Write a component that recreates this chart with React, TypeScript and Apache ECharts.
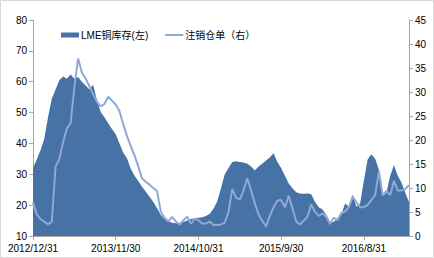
import React, { useEffect, useRef } from "react";
import * as echarts from "echarts";

// Half-month steps from 2012/12/31 to 2017/2/28
const stockLME: number[] = [
  32, 34.8, 37.8, 41.5, 48.5, 54.5, 57.5, 60.5, 61.7, 61, 62.3, 61, 61.5, 60, 58.8, 57.5, 59, 54, 50.2, 48.5,
  46.5, 44.7, 43, 40, 37, 35.2, 31.8, 29.5, 27.8, 26, 24.3, 22.7, 21, 19, 16.8, 15.5, 14.8, 14.3, 14.1, 14,
  14.5, 15, 15.5, 15.7, 15.9, 16.1, 16.5, 17.2, 18.8, 21.3, 25.5, 30, 32, 34, 34.2, 34, 33.8, 33.4, 32.5, 31.2,
  32.5, 33.5, 34.5, 35.5, 36.8, 34, 32, 29.5, 27, 25.5, 24.2, 23.8, 23.7, 23.8, 23.5, 21, 19.3, 18.6, 16.8, 14.6,
  14.5, 15.8, 17, 20.5, 19.5, 23.4, 19.5, 20.5, 28, 34.8, 36.5, 35, 31.5, 23, 24, 29.5, 33, 29.5, 27.3, 24, 21,
];
const cancelledWarrants: number[] = [
  7, 4.5, 3.5, 3, 2.4, 3, 14.5, 16, 19.5, 22.4, 23.5, 31, 37, 34, 32.8, 31.2, 29.5, 28, 27, 27.5,
  29, 28.2, 27.4, 26, 23.3, 20.8, 18.7, 16.8, 14.5, 12, 11.3, 10.7, 10, 9.3, 5, 3.8, 3, 4, 3, 2.4,
  3.3, 4, 2.6, 3.6, 3.3, 2.6, 2.6, 3, 2.3, 2.3, 2.4, 2.8, 5, 9.8, 8, 7.6, 9.5, 12, 9.5, 6.8,
  4.5, 3.1, 2, 4.2, 6, 7.4, 7.5, 6, 8.4, 5.8, 3, 2.4, 3.2, 4, 6.6, 5, 4.2, 4.7, 4, 2.5,
  3.8, 3.3, 4.8, 5.1, 6, 8.2, 7, 6, 6, 6.5, 7.5, 8.5, 13.5, 8.5, 9.4, 8.5, 11.5, 9.5, 9.5, 9.8, 10.6,
];
const seriesNames: string[] = ["LME铜库存(左)", "注销仓单（右）"];
const leftTicks = { min: 10, max: 80, interval: 10 };
const rightTicks = { min: 0, max: 45, interval: 5 };

function buildDates(): string[] {
  const out: string[] = [];
  for (let k = 0; k <= 50; k++) {
    const m0 = 12 + k;
    const y = 2012 + Math.floor((m0 - 1) / 12);
    const m = ((m0 - 1) % 12) + 1;
    const last = new Date(y, m, 0).getDate();
    if (k > 0) out.push(`${y}/${m}/15`);
    out.push(`${y}/${m}/${last}`);
  }
  return out;
}
const dates = buildDates();

const FONT = "'Liberation Sans', 'Noto Sans CJK SC', sans-serif";

export default function App() {
  const ref = useRef<HTMLDivElement>(null);
  useEffect(() => {
    document.body.style.margin = "0";
    const chart = echarts.init(ref.current!, undefined, { renderer: "svg" });
    chart.setOption({
      animation: false,
      backgroundColor: "#fff",
      textStyle: { fontFamily: FONT },
      graphic: [
        {
          type: "rect",
          shape: { x: 0.5, y: 0.5, width: 433, height: 257 },
          style: { fill: "none", stroke: "#d9d9d9", lineWidth: 1 },
          silent: true,
        },
      ],
      legend: {
        left: 56,
        top: 25,
        itemWidth: 18,
        itemHeight: 5,
        itemGap: 17,
        textStyle: { fontSize: 10, color: "#000", fontFamily: FONT, padding: [0, 0, 0, -3] },
        data: [
          { name: seriesNames[0], icon: "rect" },
          { name: seriesNames[1], icon: "path://M0,0H18V2H0Z" },
        ],
      },
      grid: { left: 33, right: 25, top: 20, bottom: 22 },
      xAxis: {
        type: "category",
        data: dates,
        boundaryGap: false,
        axisLine: { lineStyle: { color: "#a6a6a6" } },
        axisTick: { interval: 21, length: 4, lineStyle: { color: "#a6a6a6" } },
        axisLabel: { interval: 21, fontSize: 10, color: "#000", margin: 7, fontFamily: FONT },
        splitLine: { show: false },
      },
      yAxis: [
        {
          type: "value",
          ...leftTicks,
          axisLine: { show: true, lineStyle: { color: "#a6a6a6" } },
          axisTick: { show: true, length: 4, lineStyle: { color: "#a6a6a6" } },
          axisLabel: { fontSize: 10, color: "#000", margin: 6, fontFamily: FONT },
          splitLine: { show: false },
        },
        {
          type: "value",
          ...rightTicks,
          position: "right",
          axisLine: { show: true, lineStyle: { color: "#a6a6a6" } },
          axisTick: { show: true, length: 4, lineStyle: { color: "#a6a6a6" } },
          axisLabel: { fontSize: 10, color: "#000", margin: 6, fontFamily: FONT },
          splitLine: { show: false },
        },
      ],
      series: [
        {
          name: seriesNames[0],
          type: "line",
          yAxisIndex: 0,
          data: stockLME,
          symbol: "none",
          lineStyle: { width: 0, color: "#4672a6" },
          itemStyle: { color: "#4672a6" },
          areaStyle: { color: "#4672a6", opacity: 1, origin: "start" },
        },
        {
          name: seriesNames[1],
          type: "line",
          yAxisIndex: 1,
          data: cancelledWarrants,
          symbol: "none",
          lineStyle: { width: 2, color: "#8fa9d4" },
          itemStyle: { color: "#8fa9d4" },
        },
      ],
    });
    return () => chart.dispose();
  }, []);
  return <div ref={ref} style={{ position: "fixed", left: 0, top: 0, width: 434, height: 258 }} />;
}
